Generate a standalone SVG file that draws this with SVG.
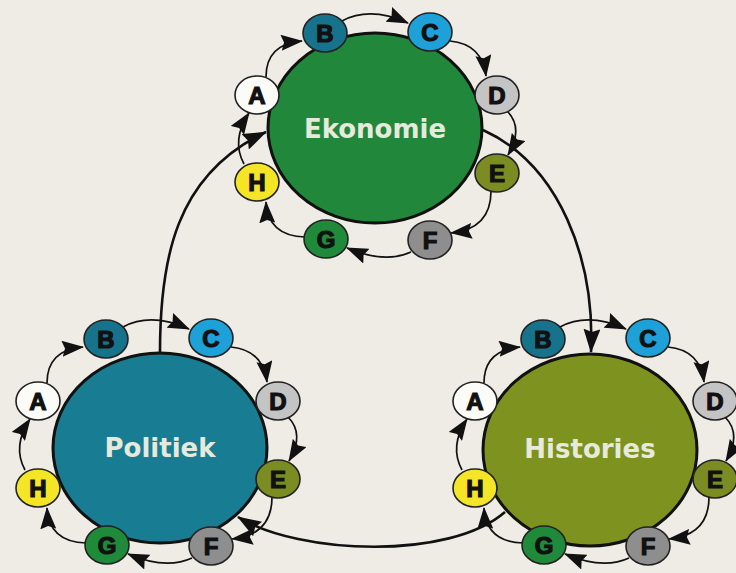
<svg xmlns="http://www.w3.org/2000/svg" width="736" height="573" viewBox="0 0 736 573">
  <defs>
    <style>
      .hub { stroke: #111; stroke-width: 3; }
      .hub-label { font-family: "DejaVu Sans", "Liberation Sans", sans-serif; font-weight: bold; font-size: 26px; fill: #e6eadc; text-anchor: middle; }
      .step { stroke: #222; stroke-width: 1.6; }
      .step-label { font-family: "Liberation Sans", Arial, sans-serif; font-weight: bold; font-size: 24px; fill: #111; stroke: #111; stroke-width: 1.2; text-anchor: middle; }
      .cycle { fill: none; stroke: #111; stroke-width: 1.7; marker-end: url(#head); }
      .link { fill: none; stroke: #111; stroke-width: 2.6; marker-end: url(#head-big); }
      .a { fill: #fbfbf8; } .b { fill: #17738c; } .c { fill: #1ea0d8; } .d { fill: #c4c4c4; }
      .e { fill: #7b8c22; } .f { fill: #8e8e8e; } .g { fill: #1f8a3a; } .h { fill: #f4e526; }
    </style>
    <marker id="head" viewBox="0 0 22 16" refX="21" refY="8" markerWidth="22" markerHeight="16" markerUnits="userSpaceOnUse" orient="auto">
      <path d="M0,0 L22,8 L0,16 L3,8 z" fill="#111"/>
    </marker>
    <marker id="head-big" viewBox="0 0 24 17" refX="23" refY="8.5" markerWidth="24" markerHeight="17" markerUnits="userSpaceOnUse" orient="auto">
      <path d="M0,0 L24,8.5 L0,17 L3,8.5 z" fill="#111"/>
    </marker>
  </defs>

  <rect width="736" height="573" fill="#eeece5"/>

  <!-- hub circles -->
  <g id="ekonomie">
    <ellipse class="hub" cx="375" cy="128" rx="107" ry="95" fill="#21873a"/>
    <text class="hub-label" x="375" y="138">Ekonomie</text>
  </g>
  <g id="politiek">
    <ellipse class="hub" cx="160" cy="448" rx="107" ry="95" fill="#187c92"/>
    <text class="hub-label" x="160" y="457">Politiek</text>
  </g>
  <g id="histories">
    <ellipse class="hub" cx="590" cy="450" rx="107" ry="96" fill="#7e9220"/>
    <text class="hub-label" x="590" y="458">Histories</text>
  </g>

  <g id="connectors">
    <!-- links between hubs -->
    <path class="link" d="M160,352 C160,260 175,175 266,132"/>
    <path class="link" d="M483,130 C560,165 595,260 591,352"/>
    <path class="link" d="M505,512 C450,560 300,555 238,517"/>

    <!-- Ekonomie cycle -->
    <path class="cycle" d="M266,77 Q266,44 302,41"/>
    <path class="cycle" d="M342,21 Q370,6 408,23"/>
    <path class="cycle" d="M450,41 Q482,44 486,76"/>
    <path class="cycle" d="M507,111 Q524,128 508,155"/>
    <path class="cycle" d="M491,191 Q491,229 451,233"/>
    <path class="cycle" d="M411,252 Q385,264 347,248"/>
    <path class="cycle" d="M305,237 Q268,236 266,202"/>
    <path class="cycle" d="M244,164 Q231,140 249,113"/>

    <!-- Politiek cycle -->
    <path class="cycle" d="M47,383 Q47,350 83,347"/>
    <path class="cycle" d="M123,327 Q151,312 189,329"/>
    <path class="cycle" d="M231,347 Q263,350 267,382"/>
    <path class="cycle" d="M288,417 Q305,434 289,461"/>
    <path class="cycle" d="M272,497 Q272,535 232,539"/>
    <path class="cycle" d="M192,558 Q166,570 128,554"/>
    <path class="cycle" d="M86,543 Q49,542 47,508"/>
    <path class="cycle" d="M25,470 Q12,446 30,419"/>

    <!-- Histories cycle -->
    <path class="cycle" d="M484,383 Q484,350 520,347"/>
    <path class="cycle" d="M560,327 Q588,312 626,329"/>
    <path class="cycle" d="M668,347 Q700,350 704,382"/>
    <path class="cycle" d="M725,417 Q742,434 726,461"/>
    <path class="cycle" d="M709,497 Q709,535 669,539"/>
    <path class="cycle" d="M629,558 Q603,570 565,554"/>
    <path class="cycle" d="M523,543 Q486,542 484,508"/>
    <path class="cycle" d="M462,470 Q449,446 467,419"/>
  </g>

  <!-- Ekonomie steps -->
  <g id="eko-a"><ellipse class="step a" cx="257" cy="95" rx="22" ry="19"/><text class="step-label" x="257" y="104">A</text></g>
  <g id="eko-b"><ellipse class="step b" cx="325" cy="33" rx="22" ry="19"/><text class="step-label" x="325" y="42">B</text></g>
  <g id="eko-c"><ellipse class="step c" cx="430" cy="32" rx="22" ry="19"/><text class="step-label" x="430" y="41">C</text></g>
  <g id="eko-d"><ellipse class="step d" cx="497" cy="95" rx="22" ry="19"/><text class="step-label" x="497" y="104">D</text></g>
  <g id="eko-e"><ellipse class="step e" cx="497" cy="173" rx="22" ry="19"/><text class="step-label" x="497" y="182">E</text></g>
  <g id="eko-f"><ellipse class="step f" cx="430" cy="240" rx="22" ry="19"/><text class="step-label" x="430" y="249">F</text></g>
  <g id="eko-g"><ellipse class="step g" cx="326" cy="239" rx="22" ry="19"/><text class="step-label" x="326" y="248">G</text></g>
  <g id="eko-h"><ellipse class="step h" cx="257" cy="182" rx="22" ry="19"/><text class="step-label" x="257" y="191">H</text></g>

  <!-- Politiek steps -->
  <g id="pol-a"><ellipse class="step a" cx="38" cy="401" rx="22" ry="19"/><text class="step-label" x="38" y="410">A</text></g>
  <g id="pol-b"><ellipse class="step b" cx="106" cy="339" rx="22" ry="19"/><text class="step-label" x="106" y="348">B</text></g>
  <g id="pol-c"><ellipse class="step c" cx="211" cy="338" rx="22" ry="19"/><text class="step-label" x="211" y="347">C</text></g>
  <g id="pol-d"><ellipse class="step d" cx="278" cy="401" rx="22" ry="19"/><text class="step-label" x="278" y="410">D</text></g>
  <g id="pol-e"><ellipse class="step e" cx="278" cy="479" rx="22" ry="19"/><text class="step-label" x="278" y="488">E</text></g>
  <g id="pol-f"><ellipse class="step f" cx="211" cy="546" rx="22" ry="19"/><text class="step-label" x="211" y="555">F</text></g>
  <g id="pol-g"><ellipse class="step g" cx="107" cy="545" rx="22" ry="19"/><text class="step-label" x="107" y="554">G</text></g>
  <g id="pol-h"><ellipse class="step h" cx="38" cy="488" rx="22" ry="19"/><text class="step-label" x="38" y="497">H</text></g>

  <!-- Histories steps -->
  <g id="his-a"><ellipse class="step a" cx="475" cy="401" rx="22" ry="19"/><text class="step-label" x="475" y="410">A</text></g>
  <g id="his-b"><ellipse class="step b" cx="543" cy="339" rx="22" ry="19"/><text class="step-label" x="543" y="348">B</text></g>
  <g id="his-c"><ellipse class="step c" cx="648" cy="338" rx="22" ry="19"/><text class="step-label" x="648" y="347">C</text></g>
  <g id="his-d"><ellipse class="step d" cx="715" cy="401" rx="22" ry="19"/><text class="step-label" x="715" y="410">D</text></g>
  <g id="his-e"><ellipse class="step e" cx="715" cy="479" rx="22" ry="19"/><text class="step-label" x="715" y="488">E</text></g>
  <g id="his-f"><ellipse class="step f" cx="648" cy="546" rx="22" ry="19"/><text class="step-label" x="648" y="555">F</text></g>
  <g id="his-g"><ellipse class="step g" cx="544" cy="545" rx="22" ry="19"/><text class="step-label" x="544" y="554">G</text></g>
  <g id="his-h"><ellipse class="step h" cx="475" cy="488" rx="22" ry="19"/><text class="step-label" x="475" y="497">H</text></g>
</svg>
